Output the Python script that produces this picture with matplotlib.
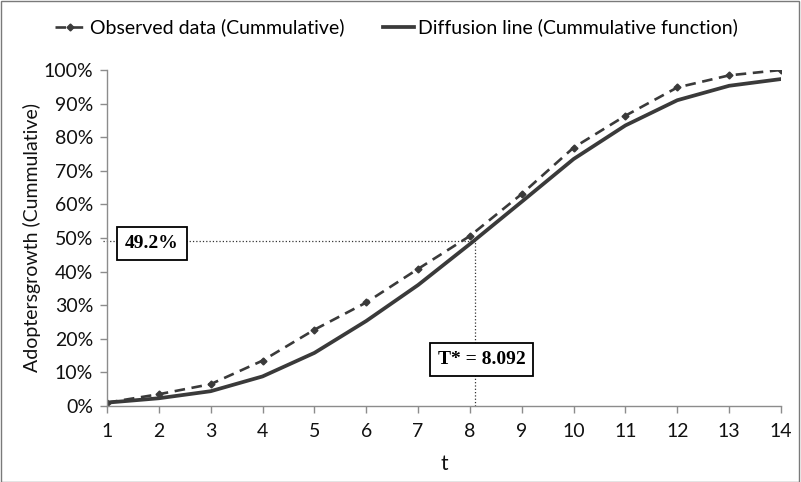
import matplotlib
matplotlib.use("Agg")
import matplotlib.pyplot as plt
from matplotlib.patches import Rectangle
from matplotlib.ticker import FuncFormatter

t = [1, 2, 3, 4, 5, 6, 7, 8, 9, 10, 11, 12, 13, 14]
observed = [1.0, 3.5, 6.5, 13.5, 22.7, 30.8, 40.8, 50.6, 63.1, 76.9, 86.4, 94.8, 98.4, 100.0]
diffusion = [1.0, 2.3, 4.4, 8.8, 15.8, 25.3, 36.0, 48.2, 60.8, 73.5, 83.5, 91.0, 95.3, 97.3]
t_star = 8.092
f_star = 49.2
labels = ["Observed data (Cummulative)", "Diffusion line (Cummulative function)"]

plt.rcParams['font.family'] = ['Lato', 'DejaVu Sans']

fig = plt.figure(figsize=(8.01, 4.82), dpi=100)
ax = fig.add_axes([0.1336, 0.1577, 0.8414, 0.6971])

dark = '#3a3a3a'
ax.plot(t, observed, linestyle=(0, (4, 2.5)), color=dark, linewidth=1.9,
        marker='D', markersize=3.5, label=labels[0])
ax.plot(t, diffusion, linestyle='-', color=dark, linewidth=2.7, label=labels[1])

# reference dotted lines
ax.plot([0.93, t_star], [f_star, f_star], linestyle=':', color='#333333', linewidth=0.9, clip_on=False)
ax.plot([t_star, t_star], [0, f_star], linestyle=':', color='#333333', linewidth=0.9)

box = dict(boxstyle='square,pad=0.4', facecolor='white', edgecolor='black', linewidth=1.3)
ax.text(1.87, 48.4, "49.2%", fontsize=14, fontweight='bold', family='Liberation Serif',
        ha='center', va='center', bbox=box, zorder=5)
ax.text(8.23, 13.8, "T* = 8.092", fontsize=14, fontweight='bold', family='Liberation Serif',
        ha='center', va='center', bbox=box, zorder=5)

ax.set_xlim(1, 14)
ax.set_ylim(0, 100)
ax.set_xticks(t)
ax.set_yticks(range(0, 101, 10))
ax.yaxis.set_major_formatter(FuncFormatter(lambda v, p: f"{int(v)}%"))
for s in ['top', 'right']:
    ax.spines[s].set_visible(False)
for s in ['left', 'bottom']:
    ax.spines[s].set_color('#8c8c8c')
    ax.spines[s].set_linewidth(1.0)
ax.tick_params(axis='both', colors='#8c8c8c', labelcolor='#111111', labelsize=14,
               length=5, width=1.0)
ax.tick_params(axis='x', pad=7)
ax.tick_params(axis='y', pad=5)
ax.set_xlabel("t", fontsize=15, color='#111111', labelpad=10)
ax.set_ylabel("Adoptersgrowth (Cummulative)", fontsize=14, color='#111111', labelpad=2)

leg = fig.legend(loc='center', bbox_to_anchor=(0.495, 0.943), ncol=2, frameon=False,
                 fontsize=14, handlelength=1.6, columnspacing=2.0, handletextpad=0.2)

fig.patches.append(Rectangle((0.001, 0.001), 0.997, 0.997, transform=fig.transFigure,
                             fill=False, edgecolor='#7a7a7a', linewidth=1.0))

fig.savefig("out.png", dpi=100)
